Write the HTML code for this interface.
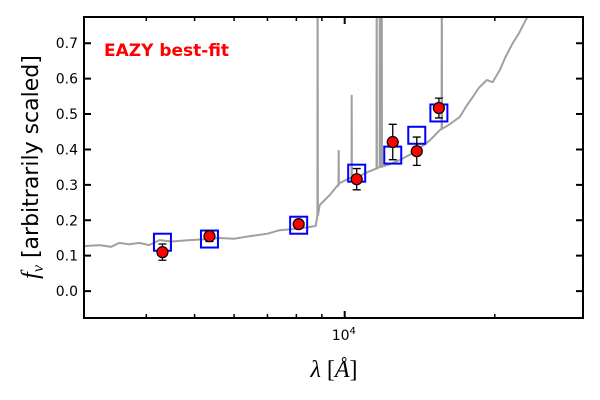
<!DOCTYPE html>
<html><head><meta charset="utf-8"><style>
html,body{margin:0;padding:0;background:#fff;}
svg{display:block;font-family:"DejaVu Sans","Liberation Sans",sans-serif;}
</style></head><body>
<svg id="chart" width="600" height="400" viewBox="0 0 600 400"></svg>
<script>
const specLam=[3000,3221,3400,3532,3700,3874,4050,4253,4500,4887,5200,5610,6000,6442,7000,7400,8000,8505,8747,8908,9330,9772,10234,10718,11200,11756,12300,12894,13500,14146,14800,15520,16200,17020,17500,18070,18600,19280,19800,20470,21000,21730,22400,23190,28000,30000];
const specFlux=[0.127,0.130,0.125,0.136,0.132,0.136,0.130,0.144,0.140,0.144,0.146,0.150,0.148,0.155,0.162,0.172,0.176,0.181,0.184,0.243,0.271,0.305,0.319,0.325,0.338,0.350,0.358,0.370,0.385,0.404,0.425,0.455,0.470,0.492,0.520,0.548,0.575,0.596,0.590,0.624,0.660,0.700,0.730,0.771,0.95,1.0];
const lineLam=[8826,9727,10330,11594,11756,11866,15660];
const lineTop=[1.0,0.398,0.554,1.0,1.0,1.0,1.0];
const obsLam=[4310,5355,8085,10570,12485,13950,15450];
const obsFlux=[0.110,0.155,0.189,0.316,0.421,0.395,0.517];
const obsErr=[0.023,0.015,0.008,0.030,0.050,0.040,0.028];
const modelFlux=[0.138,0.147,0.186,0.333,0.384,0.440,0.503];
const yTicks=[0.0,0.1,0.2,0.3,0.4,0.5,0.6,0.7];
const xMinor=[4000,5000,6000,7000,8000,9000,20000];

const L=84,R=583,T=17,B=318,lmin=3000,lmax=30060,fmin=-0.076,fmax=0.774;
const X=l=>L+(Math.log10(l)-Math.log10(lmin))/(Math.log10(lmax)-Math.log10(lmin))*(R-L);
const Y=f=>B-(f-fmin)/(fmax-fmin)*(B-T);
const svg=document.getElementById('chart');
const NS='http://www.w3.org/2000/svg';
function mk(t,a,p){const e=document.createElementNS(NS,t);for(const k in a)e.setAttribute(k,a[k]);(p||svg).appendChild(e);return e;}
const defs=mk('defs',{});const cp=mk('clipPath',{id:'c'},defs);mk('rect',{x:L,y:T,width:R-L,height:B-T},cp);
const g=mk('g',{'clip-path':'url(#c)'});
let pts=specLam.map((l,i)=>[l,specFlux[i]]);
function interp(l){for(let i=0;i<specLam.length-1;i++){if(l>=specLam[i]&&l<=specLam[i+1]){const t=(l-specLam[i])/(specLam[i+1]-specLam[i]);return specFlux[i]+t*(specFlux[i+1]-specFlux[i]);}}return specFlux[0];}
lineLam.forEach((l,i)=>{const b=interp(l);pts.push([l*0.999,b],[l,lineTop[i]],[l*1.001,b]);});
pts.sort((a,b)=>a[0]-b[0]);
const sp=mk('path',{d:'M'+pts.map(p=>X(p[0]).toFixed(1)+','+Y(p[1]).toFixed(1)).join('L'),fill:'none',stroke:'#a0a0a0','stroke-width':2},g);


obsLam.forEach((l,i)=>{
 const x=X(l),y=Y(modelFlux[i]);
 const r=mk('rect',{x:x-8.5,y:y-8.5,width:17,height:17,fill:'none',stroke:'#0000ff','stroke-width':2},g);
 
 
});
obsLam.forEach((l,i)=>{
 const x=X(l),y1=Y(obsFlux[i]+obsErr[i]),y2=Y(obsFlux[i]-obsErr[i]);
 const eb=mk('path',{d:`M${x},${y1}L${x},${y2}M${x-4},${y1}L${x+4},${y1}M${x-4},${y2}L${x+4},${y2}`,stroke:'#000','stroke-width':1.3,fill:'none'},g);
 
 
 const c=mk('circle',{cx:x,cy:Y(obsFlux[i]),r:5.5,fill:'#ff0000',stroke:'#000','stroke-width':1.2},g);
 
 
});
const fr=mk('rect',{x:L,y:T,width:R-L,height:B-T,fill:'none',stroke:'#000','stroke-width':2});


yTicks.forEach(v=>{
 const y=Y(v);
 mk('path',{d:`M${L},${y}L${L+7},${y}M${R},${y}L${R-7},${y}`,stroke:'#000','stroke-width':2});
 const t=mk('text',{x:L-6,y:y+5,'text-anchor':'end','font-size':14},null);t.textContent=v.toFixed(1);
 
 
});
xMinor.forEach(l=>{const x=X(l);mk('path',{d:`M${x},${B}L${x},${B-4}M${x},${T}L${x},${T+4}`,stroke:'#000','stroke-width':1.5});});
const xm=X(10000);mk('path',{d:`M${xm},${B}L${xm},${B-7}M${xm},${T}L${xm},${T+7}`,stroke:'#000','stroke-width':2});
const xt=mk('text',{x:xm-13,y:340,'font-size':14});xt.innerHTML='10<tspan dy="-6" font-size="10">4</tspan>';


const ti=mk('text',{x:104,y:56,'font-size':17,'font-weight':'bold',fill:'#ff0000'});ti.textContent='EAZY best-fit';


const xl=mk('text',{x:334,y:377,'text-anchor':'middle','font-size':24,'font-family':'Liberation Serif,serif'});xl.innerHTML='<tspan font-style="italic">λ</tspan> [<tspan font-style="italic">Å</tspan>]';


const yl=mk('text',{x:0,y:0,transform:'translate(38,167) rotate(-90)','text-anchor':'middle','font-size':22});yl.innerHTML='<tspan font-family="Liberation Serif,serif" font-style="italic" font-size="24">f<tspan font-size="16" dy="5">ν</tspan></tspan><tspan dy="-5"> [arbitrarily scaled]</tspan>';


</script>
</body></html>
